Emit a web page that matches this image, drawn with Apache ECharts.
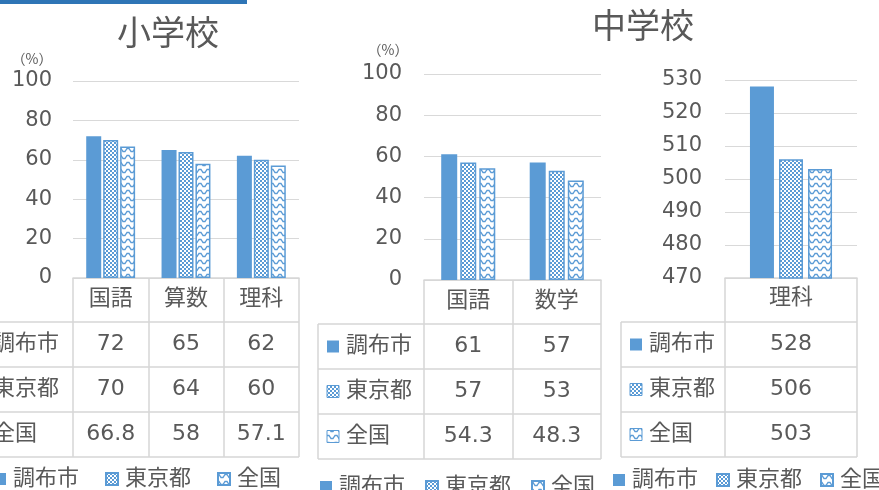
<!DOCTYPE html>
<html><head><meta charset="utf-8">
<script src="https://cdn.jsdelivr.net/npm/echarts@6/dist/echarts.min.js"></script>
<style>html,body{margin:0;padding:0;background:#fff;overflow:hidden}#c{width:879px;height:490px}</style>
</head><body><div id="c"></div>
<script>
// ---- data ----
const seriesNames = ['調布市', '東京都', '全国'];
const elemCategories = ['国語', '算数', '理科'];
const elemChofu = [72, 65, 62];
const elemTokyo = [70, 64, 60];
const elemNation = [66.8, 58, 57.1];
const juniorCategories = ['国語', '数学'];
const juniorChofu = [61, 57];
const juniorTokyo = [57, 53];
const juniorNation = [54.3, 48.3];
const scienceCategories = ['理科'];
const scienceChofu = [528];
const scienceTokyo = [506];
const scienceNation = [503];
const pctAxis = { min: 0, max: 100, interval: 20 };
const scoreAxis = { min: 470, max: 530, interval: 10 };
const titles = ['小学校', '中学校'];
const unitLabel = '（%）';

// ---- style ----
const BLUE = '#5B9BD5';
const TXT = '#595959';
const GRID = '#D9D9D9';
const TBL = '#D6D6D6';
const FONT = "'DejaVu Sans', 'Noto Sans CJK JP', sans-serif";

function makeChecker() {
  const c = document.createElement('canvas'); c.width = 4; c.height = 4;
  const g = c.getContext('2d');
  g.fillStyle = '#fff'; g.fillRect(0, 0, 4, 4);
  g.fillStyle = BLUE; g.fillRect(0, 0, 2, 2); g.fillRect(2, 2, 2, 2);
  return c;
}
function makeWave() {
  const c = document.createElement('canvas'); c.width = 8; c.height = 7;
  const g = c.getContext('2d');
  g.fillStyle = '#fff'; g.fillRect(0, 0, 8, 7);
  g.strokeStyle = BLUE; g.lineWidth = 1.3;
  g.beginPath();
  g.moveTo(0, 1.5); g.lineTo(1, 1.5); g.lineTo(3, 4.5); g.lineTo(5, 4.5); g.lineTo(7, 1.5); g.lineTo(8, 1.5);
  g.stroke();
  return c;
}
const checker = makeChecker();
const wave = makeWave();
const fills = [
  { color: BLUE },
  { color: { image: checker, repeat: 'repeat' }, borderColor: BLUE, borderWidth: 1.5 },
  { color: { image: wave, repeat: 'repeat' }, borderColor: BLUE, borderWidth: 1.5 }
];

const panels = [
  { cats: elemCategories, data: [elemChofu, elemTokyo, elemNation], axis: pctAxis,
    grid: { left: 73, top: 81, width: 226, height: 197 }, barWidth: 15, barGap: '13%',
    labelMargin: 21, catMargin: 21, tableLeft: -35, legend: { left: -6, top: 468, itemGap: 26 } },
  { cats: juniorCategories, data: [juniorChofu, juniorTokyo, juniorNation], axis: pctAxis,
    grid: { left: 424, top: 74, width: 177, height: 206 }, barWidth: 16, barGap: '19%',
    labelMargin: 22, catMargin: 21, tableLeft: 318, legend: { left: 320, top: 476, itemGap: 20 } },
  { cats: scienceCategories, data: [scienceChofu, scienceTokyo, scienceNation], axis: scoreAxis,
    grid: { left: 725, top: 80, width: 132, height: 198 }, barWidth: 24, barGap: '21%',
    labelMargin: 23, catMargin: 20, tableLeft: 621, legend: { left: 613, top: 469, itemGap: 18 } }
];
const HEADER_H = 44, ROW_H = 45;

const option = {
  animation: false,
  grid: panels.map(p => p.grid),
  xAxis: panels.map((p, i) => ({
    type: 'category', gridIndex: i, data: p.cats,
    axisLine: { show: true, lineStyle: { color: TBL, width: 1.5 } },
    axisTick: { show: true, interval: 0, length: HEADER_H + ROW_H * 3, lineStyle: { color: TBL, width: 1.5 } },
    axisLabel: { fontSize: 22, color: TXT, fontFamily: FONT, margin: p.catMargin, verticalAlign: 'middle' }
  })),
  yAxis: panels.map((p, i) => ({
    type: 'value', gridIndex: i, min: p.axis.min, max: p.axis.max, interval: p.axis.interval,
    axisLine: { show: false }, axisTick: { show: false },
    splitLine: { lineStyle: { color: GRID, width: 1 } },
    axisLabel: { fontSize: 21, color: TXT, fontFamily: FONT, margin: p.labelMargin }
  })),
  legend: panels.map(p => ({
    data: seriesNames, left: p.legend.left, top: p.legend.top, itemGap: p.legend.itemGap,
    width: 320, orient: 'horizontal',
    itemWidth: 12, itemHeight: 12, icon: 'rect', padding: 0, selectedMode: false,
    textStyle: { fontSize: 22, color: TXT, fontFamily: FONT, padding: [0, 0, 0, 2] }
  })),
  series: []
};
panels.forEach((p, i) => {
  seriesNames.forEach((name, k) => {
    option.series.push({
      type: 'bar', name, xAxisIndex: i, yAxisIndex: i, data: p.data[k],
      barWidth: p.barWidth, barGap: p.barGap, itemStyle: fills[k]
    });
  });
});

const chart = echarts.init(document.getElementById('c'));
chart.setOption(option);

// ---- tables, titles, decorations ----
const g = [];
g.push({ type: 'rect', shape: { x: 0, y: 0, width: 247, height: 4 }, style: { fill: '#2E75B6' } });
g.push({ type: 'text', style: { text: titles[0], x: 168, y: 32, textAlign: 'center', textVerticalAlign: 'middle', fill: TXT, font: "34px 'Noto Sans CJK JP'" } });
g.push({ type: 'text', style: { text: titles[1], x: 643, y: 25, textAlign: 'center', textVerticalAlign: 'middle', fill: TXT, font: "34px 'Noto Sans CJK JP'" } });
g.push({ type: 'text', style: { text: unitLabel, x: 32, y: 59, textAlign: 'center', textVerticalAlign: 'middle', fill: TXT, font: "14px 'Noto Sans CJK JP'" } });
g.push({ type: 'text', style: { text: unitLabel, x: 388, y: 50, textAlign: 'center', textVerticalAlign: 'middle', fill: TXT, font: "14px 'Noto Sans CJK JP'" } });

panels.forEach((p, i) => {
  const base = chart.convertToPixel({ yAxisIndex: i }, p.axis.min);
  const right = p.grid.left + p.grid.width;
  const L = p.tableLeft;
  const top = base + HEADER_H;
  for (let r = 0; r <= 3; r++) {
    const y = top + ROW_H * r;
    g.push({ type: 'line', shape: { x1: L, y1: y, x2: right, y2: y }, style: { stroke: TBL, lineWidth: 1.5 } });
  }
  g.push({ type: 'line', shape: { x1: L, y1: top, x2: L, y2: top + ROW_H * 3 }, style: { stroke: TBL, lineWidth: 1.5 } });
  seriesNames.forEach((name, k) => {
    const cy = top + ROW_H * k + ROW_H / 2;
    const f = fills[k];
    g.push({ type: 'rect', shape: { x: L + 9, y: cy - 6, width: 12, height: 12 },
      style: { fill: k === 0 ? BLUE : f.color, stroke: k === 0 ? null : BLUE, lineWidth: 1 } });
    g.push({ type: 'text', style: { text: name, x: L + 28, y: cy, textAlign: 'left', textVerticalAlign: 'middle', fill: TXT, font: "22px " + FONT } });
    p.cats.forEach((c, j) => {
      const cx = chart.convertToPixel({ xAxisIndex: i }, c);
      g.push({ type: 'text', style: { text: String(p.data[k][j]), x: cx, y: cy, textAlign: 'center', textVerticalAlign: 'middle', fill: TXT, font: "22px " + FONT } });
    });
  });
});
chart.setOption({ graphic: g });
</script>
</body></html>
